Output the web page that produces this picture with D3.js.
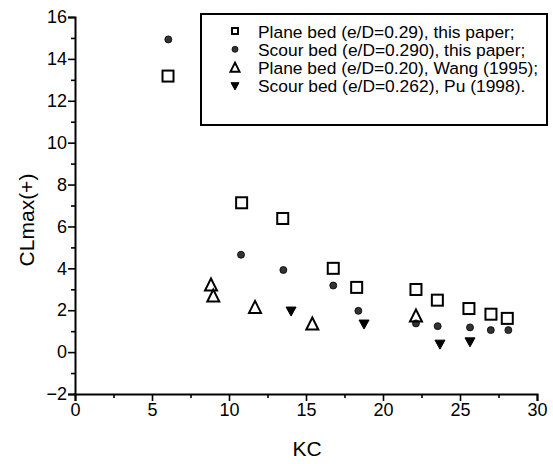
<!DOCTYPE html>
<html>
<head>
<meta charset="utf-8">
<script src="https://cdn.jsdelivr.net/npm/d3@7/dist/d3.min.js"></script>
<style>
  body { margin: 0; background: #fff; }
  text { font-family: "Liberation Sans", Arial, sans-serif; fill: #000; }
</style>
</head>
<body>
<svg id="chart" width="553" height="464"></svg>
<script>
// KC values and CLmax(+) for each data set
const planeKC   = [6.04, 10.82, 13.49, 16.77, 18.29, 22.14, 23.53, 25.58, 27.01, 28.07];
const planeCL   = [13.18, 7.13, 6.38, 4.00, 3.09, 2.99, 2.48, 2.08, 1.81, 1.61];
const scourKC   = [6.06, 10.78, 13.53, 16.77, 18.40, 22.14, 23.55, 25.65, 27.00, 28.14];
const scourCL   = [14.93, 4.65, 3.92, 3.18, 1.97, 1.37, 1.24, 1.18, 1.05, 1.05];
const wangKC    = [8.83, 8.98, 11.69, 15.41, 22.14];
const wangCL    = [3.20, 2.67, 2.13, 1.34, 1.72];
const puKC      = [14.03, 18.77, 23.70, 25.65];
const puCL      = [1.96, 1.34, 0.38, 0.49];

const legendLabels = [
  "Plane bed (e/D=0.29), this paper;",
  "Scour bed (e/D=0.290), this paper;",
  "Plane bed (e/D=0.20), Wang (1995);",
  "Scour bed (e/D=0.262), Pu (1998)."
];
const xTicks = [0, 5, 10, 15, 20, 25, 30];
const yTicks = [-2, 0, 2, 4, 6, 8, 10, 12, 14, 16];

const svg = d3.select("#chart");
const x = d3.scaleLinear().domain([0, 30]).range([75, 537]);
const y = d3.scaleLinear().domain([-2, 16]).range([394, 17]);

// axes: major ticks plus unlabeled minor ticks
const xAxis = svg.append("g").attr("transform", "translate(0,394)");
xAxis.call(d3.axisBottom(x).tickValues(xTicks).tickSize(7).tickPadding(2).tickFormat(d3.format("d")));
xAxis.append("g").call(d3.axisBottom(x).tickValues(d3.range(2.5, 30, 5)).tickSize(4).tickFormat(""))
  .select(".domain").remove();
const yAxis = svg.append("g").attr("transform", "translate(75,0)");
yAxis.call(d3.axisLeft(y).tickValues(yTicks).tickSize(7).tickPadding(1).tickFormat(d3.format("d")));
yAxis.append("g").call(d3.axisLeft(y).tickValues(d3.range(-1, 16, 2)).tickSize(4).tickFormat(""))
  .select(".domain").remove();
svg.selectAll(".domain").attr("stroke-width", 2).attr("stroke", "#000");
svg.selectAll(".tick line").attr("stroke-width", 1.6).attr("stroke", "#000");
svg.selectAll(".tick text").style("font-size", "18px").style("font-family", "'Liberation Sans', Arial, sans-serif");

svg.append("text").attr("x", 307).attr("y", 456).attr("text-anchor", "middle")
  .style("font-size", "21px").text("KC");
svg.append("text").attr("transform", "translate(34,220) rotate(-90)").attr("text-anchor", "middle")
  .style("font-size", "21px").text("CLmax(+)");

// marker drawers
const markers = [
  (g, s) => g.append("rect").attr("x", -s / 2).attr("y", -s / 2).attr("width", s).attr("height", s)
             .attr("fill", "none").attr("stroke", "#000").attr("stroke-width", 2),
  (g, s) => g.append("circle").attr("r", s / 2).attr("fill", "#333").attr("stroke", "#000").attr("stroke-width", 0.8),
  (g, s) => g.append("path").attr("d", `M0,${-s * 0.55}L${s / 2},${s * 0.45}L${-s / 2},${s * 0.45}Z`)
             .attr("fill", "none").attr("stroke", "#000").attr("stroke-width", 2),
  (g, s) => g.append("path").attr("d", `M${-s / 2},${-s * 0.4}L${s / 2},${-s * 0.4}L0,${s * 0.5}Z`)
             .attr("fill", "#000").attr("stroke", "#000").attr("stroke-width", 1)
];
const sets = [
  { kc: planeKC, cl: planeCL, size: 11 },
  { kc: scourKC, cl: scourCL, size: 7 },
  { kc: wangKC, cl: wangCL, size: 12 },
  { kc: puKC, cl: puCL, size: 10 }
];

sets.forEach((set, i) => {
  const g = svg.append("g");
  set.kc.forEach((k, j) => {
    const m = g.append("g").attr("transform", `translate(${x(k)},${y(set.cl[j])})`);
    markers[i](m, set.size);
  });
});

// legend
const leg = svg.append("g");
leg.append("rect").attr("x", 201).attr("y", 14).attr("width", 346).attr("height", 111)
  .attr("fill", "#fff").attr("stroke", "#000").attr("stroke-width", 2);
const legSizes = [6, 6, 9, 8];
legendLabels.forEach((lab, i) => {
  const cy = 31 + i * 18.3;
  const m = leg.append("g").attr("transform", `translate(235,${cy})`);
  markers[i](m, legSizes[i]);
  leg.append("text").attr("x", 258).attr("y", cy + 6.5).style("font-size", "17.4px").text(lab);
});
</script>
</body>
</html>
